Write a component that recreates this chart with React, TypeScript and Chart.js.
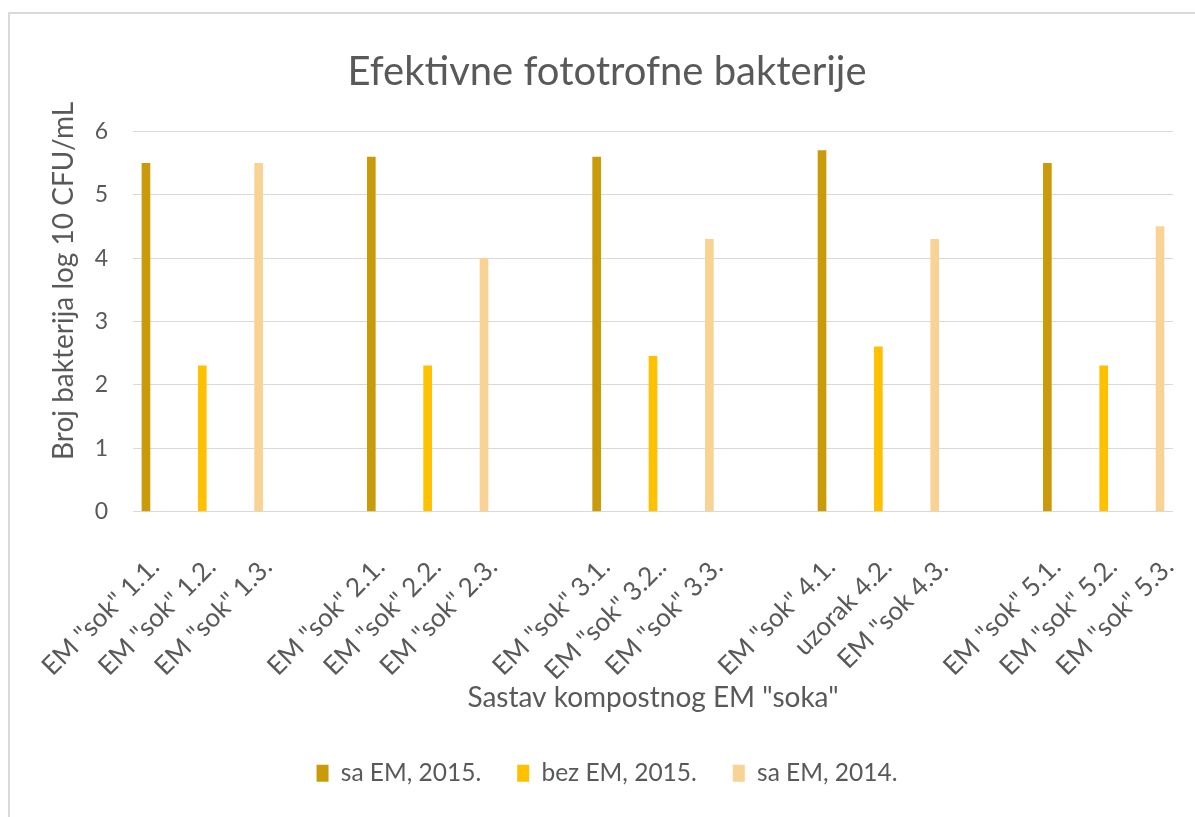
import React, { useEffect, useRef } from "react";
import { Chart, registerables } from "chart.js";

Chart.register(...registerables);

// ---- data ----
const categories: string[] = [
  'EM "sok" 1.1.', 'EM "sok" 1.2.', 'EM "sok" 1.3.', "",
  'EM "sok" 2.1.', 'EM "sok" 2.2.', 'EM "sok" 2.3.', "",
  'EM "sok" 3.1.', 'EM "sok" 3.2..', 'EM "sok" 3.3.', "",
  'EM "sok" 4.1.', "uzorak 4.2.", 'EM "sok 4.3.', "",
  'EM "sok" 5.1.', 'EM "sok" 5.2.', 'EM "sok" 5.3.',
];
const saEM2015: (number | null)[] = [5.5, null, null, null, 5.6, null, null, null, 5.6, null, null, null, 5.7, null, null, null, 5.5, null, null];
const bezEM2015: (number | null)[] = [null, 2.3, null, null, null, 2.3, null, null, null, 2.45, null, null, null, 2.6, null, null, null, 2.3, null];
const saEM2014: (number | null)[] = [null, null, 5.5, null, null, null, 4.0, null, null, null, 4.3, null, null, null, 4.3, null, null, null, 4.5];
const seriesNames: string[] = ["sa EM, 2015.", "bez EM, 2015.", "sa EM, 2014."];
const yTicks: number[] = [0, 1, 2, 3, 4, 5, 6];

const chartTitle = "Efektivne fototrofne bakterije";
const yTitle = "Broj bakterija log 10 CFU/mL";
const xTitle = 'Sastav kompostnog EM "soka"';

// ---- style ----
const COLORS = ["#C99B0B", "#FFC000", "#F9D393"];
const TEXT = "#595959";
const GRID = "#D9D9D9";
const FONT = "Lato";
const X_EDGE = 0.23; // category-units of padding at each end of the x axis

const framePlugin = {
  id: "frame",
  beforeDraw(chart: any) {
    const { ctx, width, height } = chart;
    ctx.save();
    ctx.fillStyle = "#ffffff";
    ctx.fillRect(0, 0, width, height);
    ctx.strokeStyle = GRID;
    ctx.lineWidth = 2;
    ctx.beginPath();
    ctx.moveTo(9, height);
    ctx.lineTo(9, 13);
    ctx.lineTo(width, 13);
    ctx.stroke();
    ctx.restore();
  },
  afterDraw(chart: any) {
    // vertical axis title, centred on the whole chart frame like the original
    const { ctx } = chart;
    ctx.save();
    ctx.translate(73, 281);
    ctx.rotate(-Math.PI / 2);
    ctx.fillStyle = TEXT;
    ctx.font = `28px ${FONT}`;
    ctx.textAlign = "center";
    ctx.textBaseline = "alphabetic";
    ctx.fillText(yTitle, 0, 0);
    ctx.restore();
  },
};

export default function App() {
  const ref = useRef<HTMLCanvasElement | null>(null);

  useEffect(() => {
    if (!ref.current) return;
    const chart = new Chart(ref.current, {
      type: "bar",
      data: {
        labels: categories,
        datasets: [
          { label: seriesNames[0], data: saEM2015, backgroundColor: COLORS[0] },
          { label: seriesNames[1], data: bezEM2015, backgroundColor: COLORS[1] },
          { label: seriesNames[2], data: saEM2014, backgroundColor: COLORS[2] },
        ],
      },
      options: {
        responsive: false,
        animation: false,
        layout: { padding: { left: 41, right: 22, top: 0, bottom: 21.5 } },
        datasets: { bar: { grouped: false, barThickness: 8 } } as any,
        plugins: {
          title: {
            display: true,
            text: chartTitle,
            color: TEXT,
            font: { family: FONT, size: 40, weight: "normal" },
            padding: { top: 48, bottom: 35.7 },
          },
          legend: {
            position: "bottom",
            labels: {
              boxWidth: 12,
              boxHeight: 17,
              padding: 36,
              color: TEXT,
              font: { family: FONT, size: 24.5 },
            },
          },
          tooltip: { enabled: false },
        },
        scales: {
          x: {
            type: "category",
            offset: false,
            grid: { display: false, drawTicks: false },
            border: { display: false },
            ticks: {
              autoSkip: false,
              minRotation: 45,
              maxRotation: 45,
              labelOffset: 9,
              padding: 40,
              color: TEXT,
              font: { family: FONT, size: 26 },
            },
            title: {
              display: true,
              text: xTitle,
              color: TEXT,
              font: { family: FONT, size: 28 },
              padding: { top: 0, bottom: 10.7 },
            },
            afterBuildTicks: (scale: any) => {
              scale._startValue = -X_EDGE;
              scale._valueRange = categories.length - 1 + 2 * X_EDGE;
            },
            afterFit: (scale: any) => {
              scale.height = 213.5;
              scale.paddingLeft = 0;
              scale.paddingRight = 0;
            },
          },
          y: {
            min: yTicks[0],
            max: yTicks[yTicks.length - 1],
            afterBuildTicks: (scale: any) => {
              scale.ticks = yTicks.map((v) => ({ value: v }));
            },
            grid: { color: GRID, lineWidth: 1, drawTicks: false },
            border: { display: false },
            ticks: {
              padding: 25,
              color: TEXT,
              font: { family: FONT, size: 23 },
            },
            title: { display: false },
            afterFit: (scale: any) => {
              scale.width = 92;
            },
          },
        },
      },
      plugins: [framePlugin],
    });
    return () => chart.destroy();
  }, []);

  return (
    <div style={{ position: "fixed", left: 0, top: 0, width: 1195, height: 817, background: "#fff" }}>
      <canvas ref={ref} width={1195} height={817} style={{ display: "block" }} />
    </div>
  );
}
